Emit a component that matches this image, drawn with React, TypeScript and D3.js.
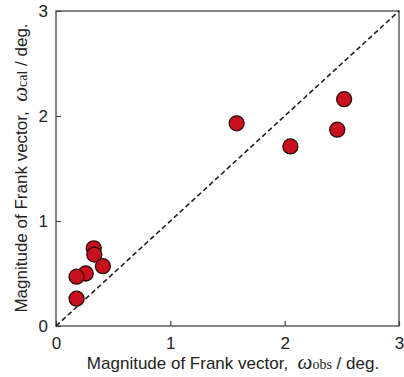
import React, { useEffect, useRef } from "react";
import * as d3 from "d3";

const obsValues = [1.58, 2.05, 2.46, 2.52, 0.33, 0.335, 0.41, 0.26, 0.18, 0.18];
const calValues = [1.93, 1.71, 1.87, 2.16, 0.74, 0.68, 0.57, 0.5, 0.47, 0.26];
const tickValues = [0, 1, 2, 3];

const App = () => {
  const ref = useRef<SVGSVGElement>(null);

  useEffect(() => {
    const svg = d3.select(ref.current);
    svg.selectAll("*").remove();

    const margin = { top: 11, right: 5, bottom: 51, left: 56 };
    const width = 404 - margin.left - margin.right;
    const height = 377 - margin.top - margin.bottom;
    const font = "'Liberation Sans', Arial, sans-serif";
    const serif = "'Liberation Serif', 'Times New Roman', serif";

    const x = d3.scaleLinear().domain([0, 3]).range([0, width]);
    const y = d3.scaleLinear().domain([0, 3]).range([height, 0]);

    const g = svg.append("g").attr("transform", `translate(${margin.left},${margin.top})`);

    // frame
    g.append("rect")
      .attr("width", width)
      .attr("height", height)
      .attr("fill", "none")
      .attr("stroke", "#444")
      .attr("stroke-width", 1.3);

    // axes with inward ticks
    const xAxis = g.append("g")
      .attr("transform", `translate(0,${height})`)
      .call(d3.axisBottom(x).tickValues(tickValues).tickFormat(d3.format("d")).tickSizeInner(-5).tickSizeOuter(0).tickPadding(11));
    const yAxis = g.append("g")
      .call(d3.axisLeft(y).tickValues(tickValues).tickFormat(d3.format("d")).tickSizeInner(-5).tickSizeOuter(0).tickPadding(8));
    [xAxis, yAxis].forEach(a => {
      a.select(".domain").remove();
      a.selectAll("line").attr("stroke", "#444").attr("stroke-width", 1.2);
      a.selectAll("text").attr("font-family", font).attr("font-size", 17).attr("fill", "#222");
    });

    // y = x line
    g.append("line")
      .attr("x1", x(0)).attr("y1", y(0))
      .attr("x2", x(3)).attr("y2", y(3))
      .attr("stroke", "#222")
      .attr("stroke-width", 1.6)
      .attr("stroke-dasharray", "5,3");

    // points
    g.selectAll("circle")
      .data(obsValues.map((v, i) => [v, calValues[i]]))
      .enter()
      .append("circle")
      .attr("cx", d => x(d[0]))
      .attr("cy", d => y(d[1]))
      .attr("r", 7.5)
      .attr("fill", "#c8101e")
      .attr("stroke", "#2a0a0a")
      .attr("stroke-width", 1.3);

    const addTitle = (t, sub) => {
      t.attr("text-anchor", "middle")
        .attr("font-family", font)
        .attr("font-size", 17)
        .attr("fill", "#222");
      t.append("tspan").text("Magnitude of Frank vector,\u00a0\u00a0");
      t.append("tspan").attr("font-family", serif).attr("font-style", "italic").attr("font-size", 21).text("ω");
      t.append("tspan").attr("font-family", serif).attr("font-size", 14).text(sub);
      t.append("tspan").text(" / deg.");
    };

    // x title
    addTitle(svg.append("text").attr("x", 233).attr("y", 369), "obs");

    // y title
    addTitle(svg.append("text").attr("transform", "translate(27,168) rotate(-90)"), "cal");
  }, []);

  return (
    <svg ref={ref} width={404} height={377} style={{ position: "absolute", left: 0, top: 0, background: "#fff" }}></svg>
  );
};

export default App;
